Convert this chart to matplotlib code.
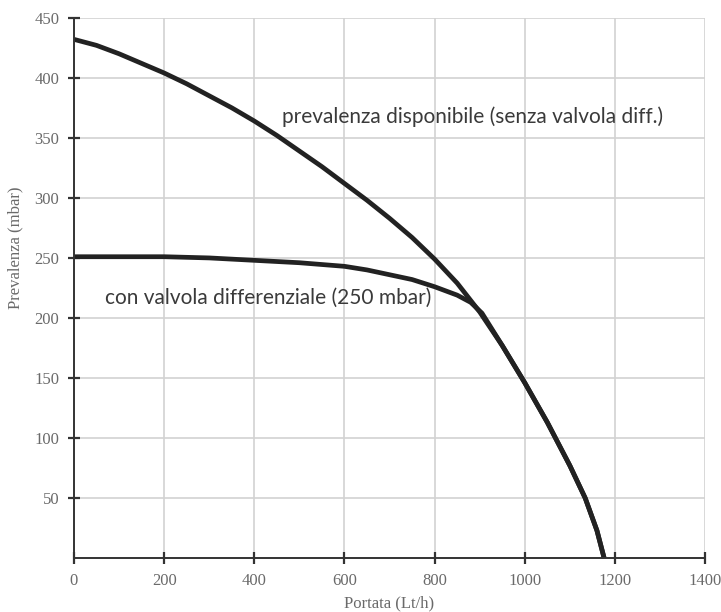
import matplotlib
matplotlib.use("Agg")
import matplotlib.pyplot as plt

# Data
upper_x = [0, 50, 100, 150, 200, 250, 300, 350, 400, 450, 500, 550, 600, 650, 700, 750, 800,
           850, 900, 950, 1000, 1050, 1100, 1134, 1160, 1176]
upper_y = [432, 427, 420, 412, 404, 395, 385, 375, 364, 352, 339, 326, 312, 298, 283, 267, 249,
           229, 205, 177, 146, 113, 77, 50, 23, 0]

lower_x = [0, 100, 200, 300, 400, 500, 600, 650, 700, 750, 800, 850, 880, 905, 950, 1000, 1050,
           1100, 1134, 1160, 1176]
lower_y = [251, 251, 251, 250, 248, 246, 243, 240, 236, 232, 226, 219, 213, 204, 177, 146, 113,
           77, 50, 23, 0]

x_ticks = [0, 200, 400, 600, 800, 1000, 1200, 1400]
y_ticks = [50, 100, 150, 200, 250, 300, 350, 400, 450]

label_upper = "prevalenza disponibile (senza valvola diff.)"
label_lower = "con valvola differenziale (250 mbar)"
x_label = "Portata (Lt/h)"
y_label = "Prevalenza (mbar)"

fig = plt.figure(figsize=(7.21, 6.12), dpi=100)
ax = fig.add_axes([0.1026, 0.088, 0.8754, 0.883])

ax.set_xlim(0, 1400)
ax.set_ylim(0, 450)
ax.set_xticks(x_ticks)
ax.set_yticks(y_ticks)
ax.grid(True, color="#d2d2d2", linewidth=1.2)
ax.set_axisbelow(True)

for s in ["top", "right"]:
    ax.spines[s].set_visible(False)
for s in ["left", "bottom"]:
    ax.spines[s].set_color("#333333")
    ax.spines[s].set_linewidth(1.4)

ax.tick_params(direction="inout", length=9, width=1.6, color="#333333",
               labelcolor="#6a6a6a", labelsize=12, pad=6)
for lab in ax.get_xticklabels() + ax.get_yticklabels():
    lab.set_family("Liberation Serif")

ax.plot(upper_x, upper_y, color="#222222", linewidth=3.4, solid_capstyle="butt",
        solid_joinstyle="round", clip_on=False)
ax.plot(lower_x, lower_y, color="#222222", linewidth=3.4, solid_capstyle="butt",
        solid_joinstyle="round", clip_on=False)

ax.text(462, 368, label_upper, fontsize=15, family="Lato", color="#3a3a3a",
        ha="left", va="center")
ax.text(68, 217, label_lower, fontsize=15, family="Lato", color="#3a3a3a",
        ha="left", va="center")

ax.set_xlabel(x_label, family="Liberation Serif", fontsize=12, color="#6a6a6a", labelpad=5)
ax.set_ylabel(y_label, family="Liberation Serif", fontsize=12, color="#6a6a6a", labelpad=4)
ax.yaxis.set_label_coords(-0.08, 0.575)

fig.savefig("out.png", dpi=100, facecolor="white")
